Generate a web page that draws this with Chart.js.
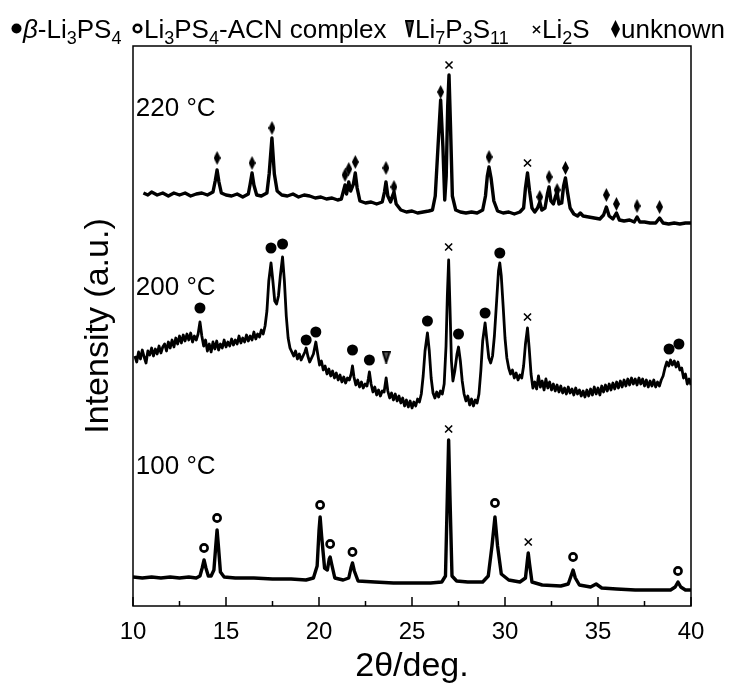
<!DOCTYPE html>
<html>
<head>
<meta charset="utf-8">
<script src="https://cdn.jsdelivr.net/npm/chart.js@4/dist/chart.umd.min.js"></script>
<style>
body { margin: 0; background: #fff; }
#wrap { position: relative; width: 740px; height: 692px; font-family: 'Liberation Sans', Arial, sans-serif; }
.leg { position: absolute; top: 15px; font-size: 26px; line-height: 28px; white-space: nowrap; color: #000; }
.leg sub { font-size: 18px; vertical-align: -6px; line-height: 0; }
.leg svg { margin-right: 1px; }
.leg svg.small { vertical-align: 4px; }
.leg svg.tall { vertical-align: 0px; }
</style>
</head>
<body>
<div id="wrap">
  <canvas id="xrd" width="740" height="692"></canvas>
</div>
<script>
// legend / phase names
const phaseNames = [
  '<i>β</i>-Li<sub>3</sub>PS<sub>4</sub>',
  'Li<sub>3</sub>PS<sub>4</sub>-ACN complex',
  'Li<sub>7</sub>P<sub>3</sub>S<sub>11</sub>',
  'Li<sub>2</sub>S',
  'unknown'
];

const tempLabels = ['220 °C', '200 °C', '100 °C'];
const tempLabelPos = [[10.15, 497], [10.15, 318], [10.15, 139]];

// traces: [2theta, intensity (offset, a.u.)]
const trace100 = [
  [10.0,29],[10.5,28],[11.0,29],[11.5,28],[12.0,29],[12.5,28],[13.0,29],[13.4,28],[13.6,30],[13.72,38],[13.82,46],[13.92,38],
  [14.05,30],[14.2,30],[14.35,36],[14.45,60],[14.52,76],[14.6,58],[14.7,34],[14.9,29],[15.5,28],[16.5,28],[17.5,27],[18.5,27],
  [19.3,26],[19.7,28],[19.9,40],[20.0,75],[20.06,89],[20.14,70],[20.3,38],[20.45,36],[20.55,47],[20.6,49],[20.68,42],[20.85,28],
  [21.3,26],[21.6,28],[21.72,38],[21.8,43],[21.9,35],[22.1,25],[23.0,24],[24.0,23],[25.0,23],[26.0,23],[26.6,24],[26.8,30],
  [26.9,110],[26.97,166],[27.04,110],[27.15,30],[27.4,25],[28.0,24],[28.8,24],[29.1,30],[29.3,60],[29.46,89],[29.6,60],[29.8,32],
  [30.2,26],[30.8,24],[31.1,28],[31.2,45],[31.25,53],[31.32,42],[31.45,24],[32.0,21],[33.0,20],[33.4,22],[33.55,30],[33.66,36],
  [33.78,28],[34.0,21],[34.6,19],[34.9,22],[35.2,18],[36.0,17],[37.0,16],[38.0,16],[38.9,16],[39.15,19],[39.3,24],[39.45,19],
  [39.7,16],[40.0,16]
];

const trace200 = [
  [10.1,250],[10.2,244],[10.3,254],[10.4,247],[10.5,256],[10.6,249],[10.7,243],[10.8,255],[10.9,251],[11.0,258],[11.1,250],
  [11.2,257],[11.3,252],[11.4,260],[11.5,253],[11.6,259],[11.7,262],[11.8,255],[11.9,264],[12.0,258],[12.1,266],[12.2,259],
  [12.3,268],[12.4,262],[12.5,270],[12.6,263],[12.7,271],[12.8,265],[12.9,272],[13.0,266],[13.1,273],[13.2,264],[13.3,270],
  [13.4,266],[13.5,272],[13.6,284],[13.7,270],[13.8,260],[13.9,266],[14.0,255],[14.1,262],[14.2,254],[14.3,264],[14.4,257],
  [14.5,265],[14.6,256],[14.7,262],[14.8,258],[14.9,266],[15.0,259],[15.1,264],[15.2,260],[15.3,267],[15.4,261],[15.5,266],
  [15.6,262],[15.7,270],[15.8,263],[15.9,268],[16.0,264],[16.1,271],[16.2,265],[16.3,270],[16.4,266],[16.5,274],[16.6,267],
  [16.7,272],[16.8,269],[16.9,276],[17.0,272],[17.1,280],[17.2,295],[17.3,325],[17.42,343],[17.52,325],[17.62,305],[17.72,302],
  [17.82,310],[17.92,330],[18.04,349],[18.14,325],[18.24,290],[18.34,268],[18.44,258],[18.54,254],[18.64,250],[18.74,255],
  [18.84,247],[18.94,252],[19.04,246],[19.14,250],[19.24,254],[19.31,258],[19.4,250],[19.5,244],[19.6,248],[19.7,252],
  [19.83,264],[19.93,252],[20.03,241],[20.13,245],[20.23,236],[20.33,240],[20.43,232],[20.53,237],[20.63,230],[20.73,235],
  [20.83,228],[20.93,233],[21.03,226],[21.13,231],[21.23,224],[21.33,229],[21.43,223],[21.53,228],[21.63,226],[21.73,232],
  [21.8,240],[21.88,229],[21.98,221],[22.08,226],[22.18,219],[22.28,224],[22.38,218],[22.48,222],[22.58,220],[22.65,227],
  [22.71,234],[22.8,222],[22.9,214],[23.0,219],[23.1,211],[23.2,216],[23.3,210],[23.4,215],[23.5,214],[23.61,228],[23.7,215],
  [23.8,208],[23.9,213],[24.0,206],[24.1,212],[24.2,205],[24.3,210],[24.4,203],[24.5,208],[24.6,200],[24.7,206],[24.8,199],
  [24.9,205],[25.0,198],[25.1,204],[25.2,200],[25.3,207],[25.4,204],[25.5,212],[25.6,230],[25.7,255],[25.83,273],[25.93,255],
  [26.03,228],[26.13,213],[26.23,208],[26.33,214],[26.43,209],[26.53,215],[26.63,212],[26.73,222],[26.83,260],[26.9,310],
  [26.97,346],[27.04,300],[27.12,245],[27.2,225],[27.3,235],[27.42,252],[27.5,259],[27.6,245],[27.7,225],[27.8,212],[27.9,205],
  [28.0,210],[28.1,201],[28.2,207],[28.3,200],[28.4,206],[28.5,203],[28.6,212],[28.7,235],[28.8,265],[28.93,283],[29.03,265],
  [29.13,248],[29.23,243],[29.33,250],[29.43,270],[29.55,305],[29.65,335],[29.72,343],[29.8,330],[29.9,300],[30.0,268],
  [30.1,248],[30.2,238],[30.3,232],[30.4,236],[30.5,228],[30.6,233],[30.7,226],[30.8,231],[30.9,228],[31.0,240],[31.1,262],
  [31.21,278],[31.3,258],[31.4,232],[31.5,218],[31.6,224],[31.7,217],[31.8,230],[31.9,219],[32.0,225],[32.1,216],[32.2,227],
  [32.3,218],[32.4,224],[32.5,216],[32.6,222],[32.7,215],[32.8,221],[32.9,214],[33.0,220],[33.1,213],[33.2,218],[33.3,212],
  [33.4,219],[33.5,213],[33.6,217],[33.7,211],[33.8,218],[33.9,212],[34.0,216],[34.1,210],[34.2,215],[34.3,209],[34.4,216],
  [34.5,210],[34.6,217],[34.7,211],[34.8,219],[34.9,212],[35.0,218],[35.1,211],[35.2,220],[35.3,214],[35.4,221],[35.5,215],
  [35.6,222],[35.7,216],[35.8,223],[35.9,217],[36.0,224],[36.1,218],[36.2,225],[36.3,219],[36.4,226],[36.5,220],[36.6,227],
  [36.7,221],[36.8,228],[36.9,222],[37.0,227],[37.1,221],[37.2,228],[37.3,222],[37.4,227],[37.5,220],[37.6,226],[37.7,219],
  [37.8,225],[37.9,220],[38.0,226],[38.1,219],[38.2,224],[38.3,220],[38.4,226],[38.5,230],[38.6,238],[38.7,244],[38.8,240],
  [38.9,246],[39.0,241],[39.1,245],[39.2,239],[39.3,244],[39.4,236],[39.5,238],[39.6,228],[39.7,232],[39.8,222],[39.9,227],
  [40.0,221]
];

const trace220 = [
  [10.56,413],[10.8,411],[11.0,414],[11.3,411],[11.6,413],[11.9,410],[12.2,413],[12.5,411],[12.8,413],[13.1,410],[13.4,412],
  [13.7,413],[14.0,411],[14.3,414],[14.42,425],[14.52,436],[14.62,424],[14.75,413],[15.0,411],[15.3,410],[15.6,412],[15.9,409],
  [16.2,412],[16.3,422],[16.4,433],[16.5,421],[16.65,411],[16.9,410],[17.2,413],[17.32,432],[17.47,468],[17.6,432],[17.75,415],
  [18.0,411],[18.3,410],[18.6,412],[18.9,409],[19.2,411],[19.5,410],[19.8,408],[20.1,409],[20.4,407],[20.7,408],[21.0,406],
  [21.2,407],[21.3,414],[21.4,421],[21.48,412],[21.55,418],[21.6,424],[21.7,415],[21.85,422],[21.95,433],[22.05,418],[22.2,405],
  [22.5,403],[22.8,404],[23.1,402],[23.4,404],[23.52,414],[23.6,424],[23.7,410],[23.85,404],[23.95,410],[24.03,414],[24.15,402],
  [24.4,396],[24.7,394],[25.0,395],[25.3,393],[25.6,394],[25.9,395],[26.1,396],[26.25,410],[26.4,460],[26.54,506],[26.66,460],
  [26.76,406],[26.84,430],[26.92,500],[26.99,531],[27.07,480],[27.17,410],[27.35,396],[27.6,394],[27.9,393],[28.2,394],
  [28.5,393],[28.8,396],[28.95,410],[29.05,430],[29.14,439],[29.25,428],[29.4,405],[29.6,395],[29.9,393],[30.2,394],[30.5,392],
  [30.8,394],[31.0,398],[31.1,418],[31.21,433],[31.32,415],[31.45,398],[31.6,394],[31.75,398],[31.87,404],[31.98,396],
  [32.15,398],[32.28,412],[32.37,419],[32.47,405],[32.6,402],[32.72,410],[32.8,414],[32.9,402],[33.05,403],[33.15,420],
  [33.25,428],[33.36,414],[33.5,398],[33.7,392],[33.9,390],[34.05,393],[34.2,390],[34.5,389],[34.8,388],[35.1,387],[35.3,391],
  [35.45,399],[35.6,390],[35.8,387],[35.99,393],[36.15,386],[36.4,385],[36.7,386],[36.95,384],[37.1,389],[37.25,384],[37.5,384],
  [37.8,383],[38.1,383],[38.31,388],[38.5,383],[38.8,382],[39.1,383],[39.4,382],[39.7,383],[40.0,383]
];

// peak markers (marker centre positions)
const betaPeaks = [[13.6,298],[17.42,358],[18.04,362],[19.31,266],[19.83,274],[21.8,256],[22.71,246],[25.83,285],[27.5,272],
  [28.93,293],[29.72,353],[38.82,257],[39.35,262]];
const acnPeaks = [[13.82,58],[14.52,88],[20.06,101],[20.6,62],[21.8,54],[29.46,103],[33.66,49],[39.3,35]];
const li7Peaks = [[23.61,249]];
const li2sPeaks = [[26.99,541],[31.21,443],[26.97,359],[31.21,289],[26.97,177],[31.25,64]];
const unknownPeaks = [[14.52,448],[16.4,443],[17.47,478],[21.4,431],[21.6,437],[21.95,444],[23.6,438],[24.03,419],[26.54,514],
  [29.14,449],[31.87,409],[32.37,429],[32.8,416],[33.25,438],[35.45,411],[35.99,402],[37.1,400],[38.31,399]];

const xTicksMajor = [10, 15, 20, 25, 30, 35, 40];
const xTicksMinor = [12.5, 17.5, 22.5, 27.5, 32.5, 37.5];

Chart.defaults.font.family = "'Liberation Sans', Arial, sans-serif";
Chart.defaults.color = '#000';

function diamondImg(w, h) {
  const c = document.createElement('canvas');
  c.width = w; c.height = h;
  const g = c.getContext('2d');
  g.beginPath();
  g.moveTo(w / 2, 0); g.lineTo(w, h / 2); g.lineTo(w / 2, h); g.lineTo(0, h / 2);
  g.closePath();
  g.fillStyle = '#000';
  g.fill();
  return c;
}

function triangleImg(w, h) {
  const c = document.createElement('canvas');
  c.width = w; c.height = h;
  const g = c.getContext('2d');
  g.beginPath();
  g.moveTo(1, 1); g.lineTo(w - 1, 1); g.lineTo(w / 2, h - 1);
  g.closePath();
  g.fillStyle = '#555';
  g.fill();
  g.lineWidth = 2;
  g.strokeStyle = '#000';
  g.stroke();
  return c;
}

// legend built as html (needs subscripts)
const legendIcons = [
  '<svg class="small" width="11" height="11"><circle cx="5.5" cy="5.5" r="5" fill="#000"/></svg>',
  '<svg class="small" width="11" height="11"><circle cx="5.5" cy="5.5" r="3.8" fill="#fff" stroke="#000" stroke-width="2.6"/></svg>',
  '<svg class="tall" width="9" height="18"><polygon points="1,1 8,1 4.5,17" fill="#555" stroke="#000" stroke-width="2"/></svg>',
  '<svg class="small" width="9" height="9"><path d="M1,1 L8,8 M8,1 L1,8" stroke="#000" stroke-width="1.6"/></svg>',
  '<svg class="tall" width="9" height="18"><polygon points="4.5,0 9,9 4.5,18 0,9" fill="#000"/></svg>'
];
const legendX = [11, 132, 405, 532, 611];
const wrap = document.getElementById('wrap');
phaseNames.forEach((name, i) => {
  const d = document.createElement('div');
  d.className = 'leg';
  d.style.left = legendX[i] + 'px';
  d.innerHTML = legendIcons[i] + name;
  wrap.appendChild(d);
});

const toXY = arr => arr.map(([x, y]) => ({ x, y }));

const traceStyle = {
  showLine: true,
  pointRadius: 0,
  borderColor: '#000',
  borderWidth: 3.4,
  borderJoinStyle: 'round',
  tension: 0,
  order: 2
};

const framePlugin = {
  id: 'frame',
  afterDraw(chart) {
    const { ctx, chartArea: a, scales: { x, y } } = chart;
    ctx.save();
    ctx.strokeStyle = '#000';
    ctx.lineWidth = 1.5;
    ctx.strokeRect(a.left, a.top, a.right - a.left, a.bottom - a.top);
    ctx.beginPath();
    xTicksMajor.forEach(v => {
      const px = x.getPixelForValue(v);
      ctx.moveTo(px, a.bottom); ctx.lineTo(px, a.bottom - 9);
    });
    xTicksMinor.forEach(v => {
      const px = x.getPixelForValue(v);
      ctx.moveTo(px, a.bottom); ctx.lineTo(px, a.bottom - 5);
    });
    ctx.stroke();
    ctx.fillStyle = '#000';
    ctx.font = "26px 'Liberation Sans', Arial, sans-serif";
    ctx.textAlign = 'left';
    ctx.textBaseline = 'middle';
    tempLabels.forEach((t, i) => {
      ctx.fillText(t, x.getPixelForValue(tempLabelPos[i][0]), y.getPixelForValue(tempLabelPos[i][1]));
    });
    ctx.restore();
  }
};

new Chart(document.getElementById('xrd').getContext('2d'), {
  type: 'scatter',
  data: {
    datasets: [
      { label: 'unknown', data: toXY(unknownPeaks), pointStyle: diamondImg(7, 14), pointRadius: 6, order: 1 },
      { label: 'Li2S', data: toXY(li2sPeaks), pointStyle: 'crossRot', pointRadius: 5, borderColor: '#000', borderWidth: 1.6, order: 1 },
      { label: 'Li7P3S11', data: toXY(li7Peaks), pointStyle: triangleImg(9, 13), pointRadius: 6, order: 1 },
      { label: 'ACN complex', data: toXY(acnPeaks), pointStyle: 'circle', pointRadius: 3.6, backgroundColor: '#fff', borderColor: '#000', borderWidth: 2.6, order: 1 },
      { label: 'beta', data: toXY(betaPeaks), pointStyle: 'circle', pointRadius: 5.5, backgroundColor: '#000', borderColor: '#000', borderWidth: 0, order: 1 },
      { label: '220 °C', data: toXY(trace220), ...traceStyle },
      { label: '200 °C', data: toXY(trace200), ...traceStyle, borderWidth: 2.8 },
      { label: '100 °C', data: toXY(trace100), ...traceStyle }
    ]
  },
  options: {
    responsive: false,
    animation: false,
    layout: { padding: { left: 60, top: 46, right: 49, bottom: 0 } },
    plugins: { legend: { display: false }, tooltip: { enabled: false } },
    scales: {
      x: {
        type: 'linear',
        min: 10,
        max: 40,
        grid: { display: false },
        border: { display: false },
        ticks: { stepSize: 5, font: { size: 24 }, color: '#000', padding: 4 },
        title: { display: true, text: '2θ/deg.', font: { size: 34 }, color: '#000', padding: { top: 0, bottom: 5 } },
        afterFit: s => { s.height = 86; }
      },
      y: {
        min: 0,
        max: 560,
        grid: { display: false },
        border: { display: false },
        ticks: { display: false },
        title: { display: true, text: 'Intensity (a.u.)', font: { size: 34 }, color: '#000', padding: { top: 18, bottom: 0 } },
        afterFit: s => { s.width = 73; }
      }
    }
  },
  plugins: [framePlugin]
});
</script>
</body>
</html>
